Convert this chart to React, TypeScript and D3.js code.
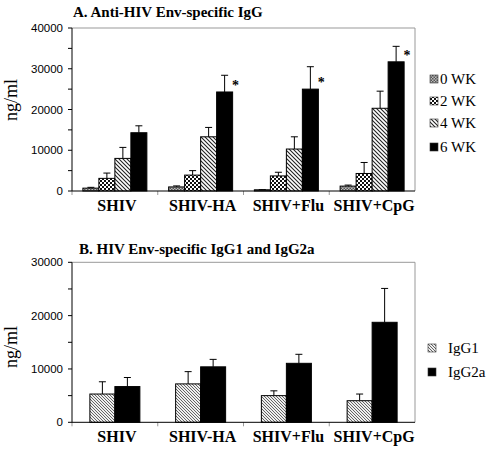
import React from "react";
import * as d3 from "d3";

const categories = ["SHIV", "SHIV-HA", "SHIV+Flu", "SHIV+CpG"];

const weeks = ["0 WK", "2 WK", "4 WK", "6 WK"];
// Panel A means [category]
const igg0wk = [700, 1000, 300, 1200];
const igg2wk = [3100, 3900, 3700, 4300];
const igg4wk = [8000, 13300, 10300, 20300];
const igg6wk = [14300, 24300, 25000, 31700];
// Panel A error bar tops
const igg0wkErr = [900, 1250, 350, 1450];
const igg2wkErr = [4400, 5000, 4600, 7000];
const igg4wkErr = [10700, 15600, 13300, 24500];
const igg6wkErr = [16000, 28400, 30500, 35500];
const significant6wk = [false, true, true, true];

const subclasses = ["IgG1", "IgG2a"];
const igg1 = [5300, 7200, 5000, 4050];
const igg2a = [6700, 10400, 11060, 18750];
const igg1Err = [7600, 9500, 5900, 5300];
const igg2aErr = [8400, 11800, 12750, 25100];

const ticksA = [0, 10000, 20000, 30000, 40000];
const ticksB = [0, 10000, 20000, 30000];

const serif = "'Liberation Serif', 'Times New Roman', serif";
const sans = "'Liberation Sans', Arial, sans-serif";

type Panel = {
  title: string;
  top: number;
  bottom: number;
  max: number;
  ticks: number[];
  series: string[];
  values: number[][];
  errs: number[][];
  fills: string[];
  pad: number;
  stars?: boolean[];
  legendY: number[];
  legendX: number;
  legendTextX: number;
  titleY: number;
  titleX: number;
  catY: number;
  ylabelY: number;
};

function PanelView({ p }: { p: Panel }) {
  const left = 72;
  const right = 415;
  const y = d3.scaleLinear().domain([0, p.max]).range([p.bottom, p.top]);
  const x0 = d3.scaleBand<string>().domain(categories).range([left, right]).padding(0);
  const x1 = d3
    .scaleBand<string>()
    .domain(p.series)
    .range([0, x0.bandwidth()])
    .paddingInner(0)
    .paddingOuter(p.pad);
  const minor = d3.range(0, p.max + 1, 5000);
  const last = p.series.length - 1;
  return (
    <g>
      <text x={p.titleX} y={p.titleY} fontFamily={serif} fontWeight="bold" fontSize={15}>
        {p.title}
      </text>
      {/* frame */}
      <line x1={left} x2={right} y1={p.top} y2={p.top} stroke="#999" strokeWidth={1} />
      <line x1={right} x2={right} y1={p.top} y2={p.bottom} stroke="#999" strokeWidth={1} />
      {/* bars */}
      {categories.map((c, ci) => (
        <g key={c}>
          {p.series.map((s, si) => {
            const bx = x0(c)! + x1(s)!;
            const bw = x1.bandwidth();
            const v = p.values[si][ci];
            const e = p.errs[si][ci];
            const cx = bx + bw / 2;
            return (
              <g key={s}>
                <line x1={cx} x2={cx} y1={y(v)} y2={y(e)} stroke="#000" strokeWidth={1} />
                <line x1={cx - 3.5} x2={cx + 3.5} y1={y(e)} y2={y(e)} stroke="#000" strokeWidth={1} />
                <rect
                  x={bx}
                  y={y(v)}
                  width={bw}
                  height={p.bottom - y(v)}
                  fill={p.fills[si]}
                  stroke="#000"
                  strokeWidth={1}
                />
              </g>
            );
          })}
          {p.stars && p.stars[ci] && (
            <text
              x={x0(c)! + x1(p.series[last])! + x1.bandwidth() + 3}
              y={y(p.values[last][ci]) - 2}
              fontFamily={serif}
              fontWeight="bold"
              fontSize={14}
              fill="#000"
              textAnchor="middle"
            >
              *
            </text>
          )}
          <text
            x={x0(c)! + x0.bandwidth() / 2 + 2}
            y={p.catY}
            fontFamily={serif}
            fontWeight="bold"
            fontSize={16}
            textAnchor="middle"
          >
            {c}
          </text>
          <line
            x1={x0(c)!}
            x2={x0(c)!}
            y1={p.bottom}
            y2={p.bottom + 4}
            stroke="#999"
            strokeWidth={1}
          />
        </g>
      ))}
      {/* axes */}
      <line x1={left} x2={right} y1={p.bottom} y2={p.bottom} stroke="#000" strokeWidth={1} />
      <line x1={left} x2={left} y1={p.top} y2={p.bottom} stroke="#000" strokeWidth={1} />
      {minor.map((t) => (
        <line key={t} x1={left - 4} x2={left} y1={y(t)} y2={y(t)} stroke="#000" strokeWidth={1} />
      ))}
      {p.ticks.map((t) => (
        <text
          key={t}
          x={63}
          y={y(t) + 4}
          fontFamily={sans}
          fontSize={11.5}
          textAnchor="end"
        >
          {t}
        </text>
      ))}
      <text
        transform={`translate(17,${p.ylabelY}) rotate(-90)`}
        fontFamily={serif}
        fontSize={18}
        textAnchor="middle"
      >
        ng/ml
      </text>
      {/* legend */}
      {p.series.map((s, si) => (
        <g key={s}>
          <rect
            x={p.legendX}
            y={p.legendY[si] - 4}
            width={8}
            height={8}
            fill={p.fills[si]}
            stroke="#333"
            strokeWidth={0.6}
          />
          <text x={p.legendTextX} y={p.legendY[si] + 5} fontFamily={serif} fontSize={15}>
            {s}
          </text>
        </g>
      ))}
    </g>
  );
}

export default function App() {
  const panelA: Panel = {
    title: "A. Anti-HIV Env-specific IgG",
    top: 28,
    bottom: 191,
    max: 40000,
    ticks: ticksA,
    series: weeks,
    values: [igg0wk, igg2wk, igg4wk, igg6wk],
    errs: [igg0wkErr, igg2wkErr, igg4wkErr, igg6wkErr],
    fills: ["url(#dots)", "url(#check)", "url(#hatch)", "#000"],
    pad: 0.68,
    stars: significant6wk,
    legendY: [79, 101, 123, 147],
    legendX: 430,
    legendTextX: 440,
    titleX: 73,
    titleY: 17,
    catY: 211,
    ylabelY: 100,
  };
  const panelB: Panel = {
    title: "B. HIV Env-specific IgG1 and IgG2a",
    top: 262.3,
    bottom: 422.3,
    max: 30000,
    ticks: ticksB,
    series: subclasses,
    values: [igg1, igg2a],
    errs: [igg1Err, igg2aErr],
    fills: ["url(#hatch2)", "#000"],
    pad: 0.715,
    legendY: [348, 372],
    legendX: 428,
    legendTextX: 448,
    titleX: 79,
    titleY: 254,
    catY: 442,
    ylabelY: 347,
  };
  return (
    <svg
      width={487}
      height={449}
      style={{ position: "absolute", left: 0, top: 0, background: "#fff" }}
    >
      <defs>
        <pattern id="dots" width="3" height="3" patternUnits="userSpaceOnUse">
          <rect width="3" height="3" fill="#bbb" />
          <rect width="1.5" height="1.5" fill="#555" />
          <rect x="1.5" y="1.5" width="1.5" height="1.5" fill="#555" />
        </pattern>
        <pattern id="check" width="4" height="4" patternUnits="userSpaceOnUse">
          <rect width="4" height="4" fill="#fff" />
          <rect width="2" height="2" fill="#111" />
          <rect x="2" y="2" width="2" height="2" fill="#111" />
        </pattern>
        <pattern id="hatch" width="4" height="4" patternUnits="userSpaceOnUse">
          <rect width="4" height="4" fill="#fff" />
          <path d="M-1,-1 L5,5 M-1,3 L1,5 M3,-1 L5,1" stroke="#222" strokeWidth="1.1" />
        </pattern>
        <pattern id="hatch2" width="3" height="3" patternUnits="userSpaceOnUse">
          <rect width="3" height="3" fill="#eee" />
          <path d="M-1,-1 L4,4 M-1,2 L1,4 M2,-1 L4,1" stroke="#555" strokeWidth="0.9" />
        </pattern>
      </defs>
      <PanelView p={panelA} />
      <PanelView p={panelB} />
    </svg>
  );
}
